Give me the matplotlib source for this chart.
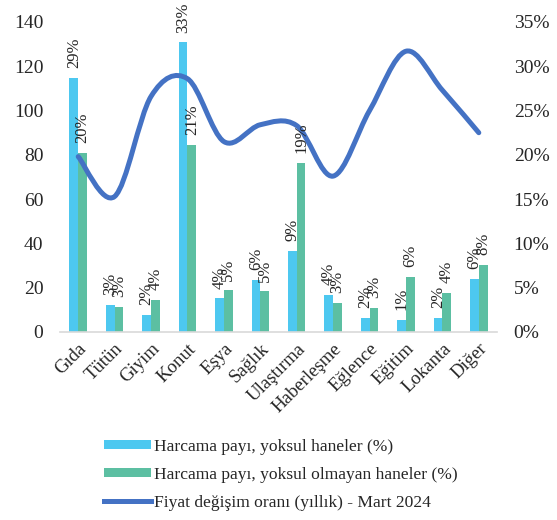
import numpy as np
import matplotlib
matplotlib.use("Agg")
import matplotlib.pyplot as plt
from matplotlib.path import Path
from matplotlib.patches import PathPatch, Patch
from matplotlib.lines import Line2D

plt.rcParams['font.family'] = ['Liberation Serif', 'DejaVu Serif']

categories = ["Gıda", "Tütün", "Giyim", "Konut", "Eşya", "Sağlık", "Ulaştırma",
              "Haberleşme", "Eğlence", "Eğitim", "Lokanta", "Diğer"]
# Expenditure shares (%)
share_poor = [28.7, 3.1, 1.9, 32.7, 3.8, 5.9, 9.2, 4.2, 1.6, 1.4, 1.6, 6.0]
share_nonpoor = [20.2, 2.8, 3.6, 21.1, 4.7, 4.6, 19.1, 3.3, 2.7, 6.2, 4.4, 7.6]
# Annual price change, March 2024 (%)
price_change = [19.8, 15.3, 26.6, 28.6, 21.5, 23.4, 23.3, 17.6, 25.0, 31.7, 27.3, 22.5]

label_poor = "Harcama payı, yoksul haneler (%)"
label_nonpoor = "Harcama payı, yoksul olmayan haneler (%)"
label_price = "Fiyat değişim oranı (yıllık) - Mart 2024"

c_poor = "#4DC8F0"
c_nonpoor = "#5CBFA2"
c_line = "#4472C4"
txt = "#262626"

fig = plt.figure(figsize=(5.57, 5.20), dpi=100)
ax = fig.add_axes([60/557, 1-332/520, 437/557, 310/520])

x = np.arange(len(categories))
w = 0.24
b1 = ax.bar(x - w/2, share_poor, w, color=c_poor, zorder=2)
b2 = ax.bar(x + w/2, share_nonpoor, w, color=c_nonpoor, zorder=2)

for bars, vals in ((b1, share_poor), (b2, share_nonpoor)):
    for r, v in zip(bars, vals):
        ax.annotate(f"{v:.0f}%", (r.get_x() + r.get_width()/2, v),
                    xytext=(0, 7), textcoords="offset points",
                    rotation=90, ha="center", va="bottom",
                    fontsize=12, color=txt, zorder=4)

# Smoothed line through the price-change points (Catmull-Rom as cubic Bezier)
pts = np.column_stack([x, price_change]).astype(float)
n = len(pts)
verts = [pts[0]]
codes = [Path.MOVETO]
for i in range(n - 1):
    p0 = pts[i - 1] if i > 0 else pts[i]
    p1 = pts[i]
    p2 = pts[i + 1]
    p3 = pts[i + 2] if i + 2 < n else pts[i + 1]
    c1 = p1 + (p2 - p0) / 6
    c2 = p2 - (p3 - p1) / 6
    verts += [c1, c2, p2]
    codes += [Path.CURVE4] * 3
ax.add_patch(PathPatch(Path(verts, codes), facecolor="none", edgecolor=c_line,
                       lw=3.6, capstyle="round", joinstyle="round", zorder=3))

ax.set_xlim(-0.5, len(categories) - 0.5)
ax.set_ylim(0, 35)
ax.yaxis.tick_right()
ax.set_yticks(np.arange(0, 36, 5))
ax.set_yticklabels([f"{t}%" for t in range(0, 36, 5)])
ax.tick_params(axis="y", length=0, pad=12, labelsize=14, labelcolor=txt)

ax.set_xticks(x)
ax.set_xticklabels(categories, rotation=45, ha="right", rotation_mode="anchor",
                   fontsize=13.5, color=txt)
ax.tick_params(axis="x", length=0, pad=6)

for s in ("left", "right", "top"):
    ax.spines[s].set_visible(False)
ax.spines["bottom"].set_color("#D9D9D9")
ax.spines["bottom"].set_linewidth(1.2)

sec = ax.secondary_yaxis("left", functions=(lambda v: v * 4, lambda v: v / 4))
sec.set_yticks(np.arange(0, 141, 20))
sec.tick_params(length=0, pad=12, labelsize=14, labelcolor=txt)
sec.spines["left"].set_visible(False)

handles = [Patch(facecolor=c_poor, edgecolor="none"),
           Patch(facecolor=c_nonpoor, edgecolor="none"),
           Line2D([], [], color=c_line, lw=3.6)]
fig.legend(handles, [label_poor, label_nonpoor, label_price],
           loc="upper left", bbox_to_anchor=(104/557, 1-439/520),
           frameon=False, fontsize=12.6, handlelength=2.7, handleheight=0.4,
           handletextpad=0.15, labelspacing=0.68, labelcolor=txt,
           borderaxespad=0, borderpad=0)

fig.savefig("out.png", dpi=100)
